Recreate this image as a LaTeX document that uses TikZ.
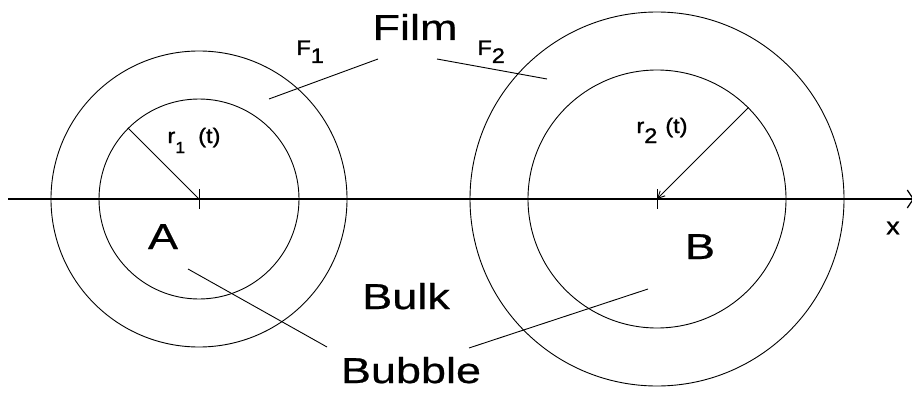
\documentclass[tikz,border=0pt]{standalone}
\usepackage{fontspec}
\setmainfont{Liberation Sans}
\newfontfamily\bigf[FakeStretch=1.25,FakeBold=0.6]{Liberation Sans}
\newfontfamily\smallf[FakeStretch=1.12,FakeBold=1.2]{Liberation Sans}
\usetikzlibrary{arrows.meta}
\begin{document}
\begin{tikzpicture}[x=1pt,y=-1pt,line width=0.9pt,
  ring/.style={draw,circle,inner sep=0pt,line width=0.9pt},
  big/.style={font=\bigf\fontsize{36}{36}\selectfont, inner sep=0pt, anchor=base},
  small/.style={font=\smallf\fontsize{21}{21}\selectfont, inner sep=0pt, anchor=base west},
]
\useasboundingbox (0,0) rectangle (912,393);
% centres
\coordinate (cA) at (199,199);
\coordinate (cB) at (657,199);
% circles
\node[ring,minimum size=200pt] (A1) at (cA) {};
\node[ring,minimum size=296pt] (A2) at (cA) {};
\node[ring,minimum size=258pt] (B1) at (cB) {};
\node[ring,minimum size=374pt] (B2) at (cB) {};
% axis
\coordinate (xl) at (8,199);
\coordinate (xr) at (914,199);
\draw[line width=1.2pt,-{Straight Barb[length=6pt,width=18pt]}] (xl) -- (xr);
\node[font=\smallf\fontsize{24}{24}\selectfont, inner sep=0pt] (xlab) at (893,228) {x};
% ticks
\draw ([yshift=10pt]cA) -- ([yshift=-10pt]cA);
\draw ([yshift=10pt]cB) -- ([yshift=-10pt]cB);
% radii
\draw (A1.135) -- (cA);
\draw[-{Straight Barb[length=7pt,width=7pt]}] (B1.45) -- (cB);
% labels
\node[big] (film) at (415,40) {Film};
\node[big] (bulk) at (406,309) {Bulk};
\node[big] (bubble) at (411,383) {Bubble};
\node[big] (la) at (163,249) {A};
\node[big] (lb) at (700,259) {B};
\node[small] (f1) at (296,55) {F\raisebox{-8pt}{1}};
\node[small] (f2) at (477,55) {F\raisebox{-8pt}{2}};
\node[small] (r1) at (167,143) {r\raisebox{-10pt}{\fontsize{16}{16}\selectfont 1}\hspace{13pt}(t)};
\node[small] (r2) at (636,133) {r\raisebox{-10pt}{2}\hspace{8pt}(t)};
% leader lines
\coordinate (film1) at (378,59);
\coordinate (film2) at (437,59);
\coordinate (fa) at (269,99);
\coordinate (fb) at (547,79);
\coordinate (bub1) at (327,347);
\coordinate (bub2) at (469,348);
\coordinate (ba) at (188,269);
\coordinate (bb) at (648,289);
\draw (film1) -- (fa);
\draw (film2) -- (fb);
\draw (bub1) -- (ba);
\draw (bub2) -- (bb);
\end{tikzpicture}
\end{document}
